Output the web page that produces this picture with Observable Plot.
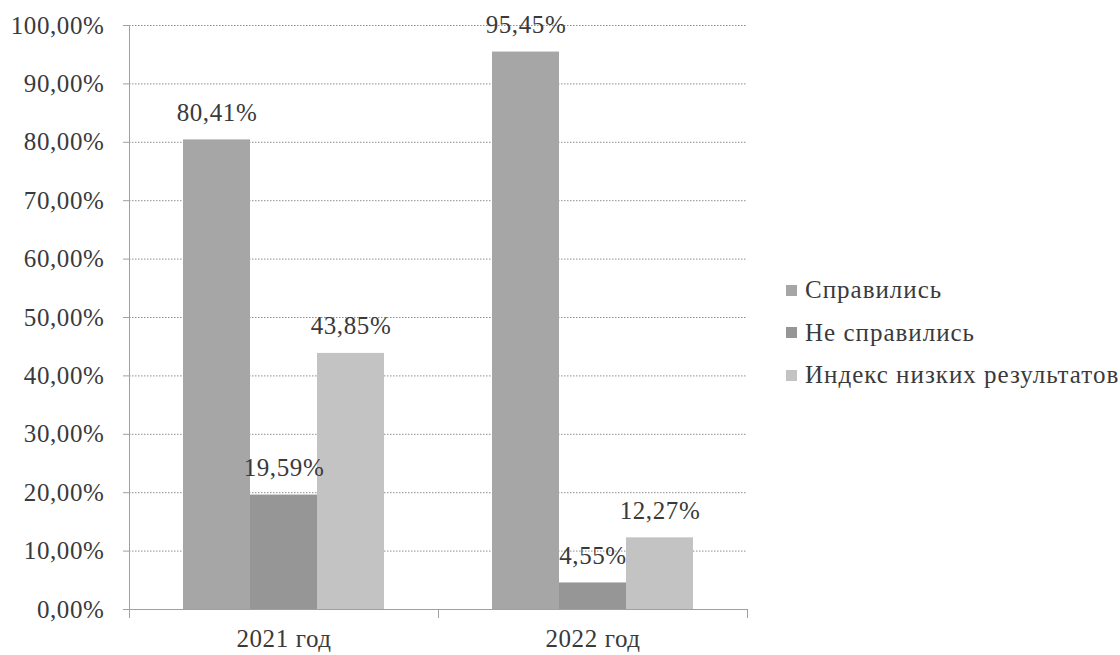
<!DOCTYPE html>
<html>
<head>
<meta charset="utf-8">
<script src="https://cdn.jsdelivr.net/npm/d3@7"></script>
<script src="https://cdn.jsdelivr.net/npm/@observablehq/plot@0.6"></script>
<style>
  body { margin: 0; background: #fff; }
  #wrap { position: relative; width: 1120px; height: 655px; }
  #legend { position: absolute; left: 786px; top: 269px; color: #3a3a3a; font-size: 25px; letter-spacing: 1px; }
  .row { height: 42.5px; line-height: 42.5px; display: flex; align-items: center; white-space: nowrap; }
  .sw { width: 11px; height: 11px; margin-right: 8px; flex: none; }
</style>
</head>
<body>
<div id="wrap"><div id="chart"></div><div id="legend"></div></div>
<script>
// ---- data ----
const years = ["2021 год", "2022 год"];
const seriesNames = ["Справились", "Не справились", "Индекс низких результатов"];
const values2021 = [80.41, 19.59, 43.85];
const values2022 = [95.45, 4.55, 12.27];
const yTicks = [0, 10, 20, 30, 40, 50, 60, 70, 80, 90, 100];
const colors = ["#a6a6a6", "#969696", "#c3c3c3"];

// pick an installed serif face (measuring also makes sure the face is loaded)
const candidates = ["Liberation Serif", "DejaVu Serif", "Tinos", "Times New Roman", "Times"];
const ctx = document.createElement("canvas").getContext("2d");
const sample = "Справились 0123456789,% Индекс WMmil";
function w(f) { ctx.font = f; return ctx.measureText(sample).width; }
const baseMono = w("25px monospace"), baseSans = w("25px sans-serif");
const found = candidates.filter(n => w(`25px "${n}", monospace`) !== baseMono || w(`25px "${n}", sans-serif`) !== baseSans);
const serifFont = found.length ? found[0] : "Liberation Serif";
const fontStack = `"${serifFont}", serif`;
document.getElementById("wrap").style.fontFamily = fontStack;

const valuesByYear = [values2021, values2022];
const data = [];
years.forEach((yr, j) => seriesNames.forEach((s, i) => data.push({year: yr, series: s, value: valuesByYear[j][i]})));

const fmt = v => v.toFixed(2).replace(".", ",") + "%";
const axisColor = "#a0a0a0";
const textColor = "#3a3a3a";
const plotHeight = 655 - 25 - 46;

const chart = Plot.plot({
  width: 1120,
  height: 655,
  marginLeft: 128,
  marginRight: 373,
  marginTop: 25,
  marginBottom: 46,
  style: {fontFamily: fontStack, fontSize: "25px", letterSpacing: "0.6px", color: textColor, background: "#fff", overflow: "visible"},
  fx: {domain: years, padding: 0, label: null},
  x: {domain: seriesNames, paddingInner: 0, paddingOuter: 0.78, axis: null},
  y: {domain: [0, 100], label: null},
  color: {domain: seriesNames, range: colors},
  marks: [
    Plot.gridY(yTicks, {stroke: "#8f8f8f", strokeOpacity: 1, strokeDasharray: "1.5,1.5"}),
    Plot.barY(data, {fx: "year", x: "series", y: "value", fill: "series"}),
    Plot.text(data, {fx: "year", x: "series", y: "value", text: d => fmt(d.value), lineAnchor: "bottom", dy: -19, fill: textColor}),
    Plot.ruleY([0], {stroke: axisColor}),
    Plot.frame({anchor: "left", facetAnchor: "left", stroke: axisColor, insetBottom: -8}),
    Plot.frame({anchor: "left", stroke: axisColor, insetTop: plotHeight, insetBottom: -8}),
    Plot.frame({anchor: "right", facetAnchor: "right", stroke: axisColor, insetTop: plotHeight, insetBottom: -8}),
    Plot.axisY(yTicks, {tickSize: 6, tickPadding: 19, tickFormat: d => fmt(d), stroke: axisColor, fill: textColor, label: null}),
    Plot.axisFx({anchor: "bottom", tickSize: 0, tickPadding: 20, label: null, fill: textColor})
  ]
});
document.getElementById("chart").appendChild(chart);

const legend = document.getElementById("legend");
seriesNames.forEach((s, i) => {
  const row = document.createElement("div");
  row.className = "row";
  const sw = document.createElement("span");
  sw.className = "sw";
  sw.style.background = colors[i];
  const t = document.createElement("span");
  t.textContent = s;
  row.appendChild(sw);
  row.appendChild(t);
  legend.appendChild(row);
});
</script>
</body>
</html>
